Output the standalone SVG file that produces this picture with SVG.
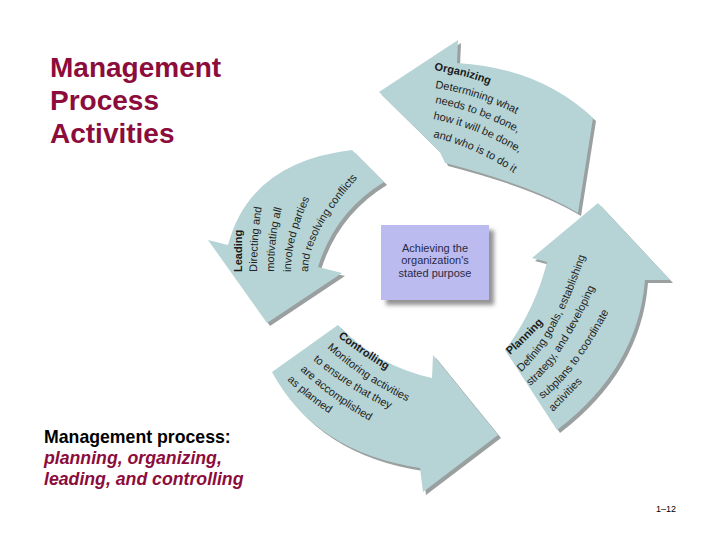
<svg xmlns="http://www.w3.org/2000/svg" width="720" height="540" viewBox="0 0 720 540">
<style>
.arrow{fill:#b6d4d5;}
.shadow{fill:#9a9fa0;}
.ttl{font-family:"Liberation Sans",Arial,sans-serif;font-weight:bold;font-size:28px;fill:#8c0c3c;}
.cap1{font-family:"Liberation Sans",Arial,sans-serif;font-weight:bold;font-size:17.7px;fill:#000;}
.cap2{font-family:"Liberation Sans",Arial,sans-serif;font-weight:bold;font-style:italic;font-size:17.7px;fill:#8c0c3c;}
.head{font-family:"Liberation Sans",Arial,sans-serif;font-weight:bold;font-size:11px;fill:#1a1a1a;}
.body{font-family:"Liberation Sans",Arial,sans-serif;font-size:11px;fill:#222;}
.ctr{font-family:"Liberation Sans",Arial,sans-serif;font-size:11px;fill:#2a2a44;text-anchor:middle;}
.pg{font-family:"Liberation Sans",Arial,sans-serif;font-size:9px;fill:#000;}
</style>
<defs>
<filter id="ds" x="-20%" y="-20%" width="150%" height="150%">
<feDropShadow dx="5" dy="5" stdDeviation="2" flood-color="#777" flood-opacity="0.8"/>
</filter>
<path id="a-org" d="M458,40 L379,92 L440,152 L445,163 Q534,186 578,213 L593,118 Q540,68 457,63 Z"/>
<path id="a-pln" d="M598,203 L670,280 L645,280 Q638,368 557,430 L505,350 Q535,310 547,262 L532,258 Z"/>
<path id="a-led" d="M352,150 Q250,162 228,245 L208,240 L267,323 L342,273 L318,267 Q335,212 384,182 Z"/>
<path id="a-ctl" d="M338,325 Q377,366 432,378 L433,355 L498,435 L423,492 L420,468 Q315,452 272,372 Z"/>
<path id="o1" d="M434,70 Q465,75 494,86 l12,5"/>
<path id="o2" d="M435,88 Q481,95 522,117 l16,9"/>
<path id="o3" d="M435,103 Q482,112 523,136 l16,9"/>
<path id="o4" d="M433,119 Q482,129 524,156 l16,10"/>
<path id="o5" d="M433,137 Q481,149 521,178 l15,11"/>
<path id="p1" d="M510,355 Q530,338 548,317 l5,-7"/>
<path id="p2" d="M521,372 Q556,343 586,254 l5,-15"/>
<path id="p3" d="M530,386 Q562,362 598,280 l6,-14"/>
<path id="p4" d="M542,399 Q574,378 612,306 l7,-13"/>
<path id="p5" d="M553,412 L594,370"/>
<path id="l1" d="M242,272 L242,200"/>
<path id="l2" d="M257,272 Q257,228 264,196 l3,-12"/>
<path id="l3" d="M274,272 Q274,226 287,193 l5,-12"/>
<path id="l4" d="M291,272 Q291,230 318,183 l6,-10"/>
<path id="l5" d="M308,272 Q308,229 368,167 l8,-8"/>
<path id="c1" d="M338,337 Q363,356 390,372 l10,6"/>
<path id="c2" d="M327,348 Q366,383 413,404 l12,5"/>
<path id="c3" d="M313,360 Q350,391 394,411 l12,5"/>
<path id="c4" d="M300,370 Q332,400 370,421 l12,6"/>
<path id="c5" d="M287,380 Q307,399 330,414 l12,7"/>
</defs>

<g id="title">
<text class="ttl" x="50" y="77">Management</text>
<text class="ttl" x="50" y="110">Process</text>
<text class="ttl" x="50" y="143">Activities</text>
</g>

<g id="connectors">
<g id="organizing">
<use href="#a-org" class="shadow" transform="translate(3,3)"/>
<use href="#a-org" class="arrow"/>
<text class="head"><textPath href="#o1">Organizing</textPath></text>
<text class="body"><textPath href="#o2">Determining what</textPath></text>
<text class="body"><textPath href="#o3">needs to be done,</textPath></text>
<text class="body"><textPath href="#o4">how it will be done,</textPath></text>
<text class="body"><textPath href="#o5">and who is to do it</textPath></text>
</g>
<g id="planning">
<use href="#a-pln" class="shadow" transform="translate(3,3)"/>
<use href="#a-pln" class="arrow"/>
<text class="head"><textPath href="#p1">Planning</textPath></text>
<text class="body"><textPath href="#p2">Defining goals, establishing</textPath></text>
<text class="body"><textPath href="#p3">strategy, and developing</textPath></text>
<text class="body"><textPath href="#p4">subplans to coordinate</textPath></text>
<text class="body"><textPath href="#p5">activities</textPath></text>
</g>
<g id="leading">
<use href="#a-led" class="shadow" transform="translate(3,3)"/>
<use href="#a-led" class="arrow"/>
<text class="head"><textPath href="#l1">Leading</textPath></text>
<text class="body"><textPath href="#l2">Directing and</textPath></text>
<text class="body"><textPath href="#l3">motivating all</textPath></text>
<text class="body"><textPath href="#l4">involved parties</textPath></text>
<text class="body"><textPath href="#l5">and resolving conflicts</textPath></text>
</g>
<g id="controlling">
<use href="#a-ctl" class="shadow" transform="translate(3,3)"/>
<use href="#a-ctl" class="arrow"/>
<text class="head"><textPath href="#c1">Controlling</textPath></text>
<text class="body"><textPath href="#c2">Monitoring activities</textPath></text>
<text class="body"><textPath href="#c3">to ensure that they</textPath></text>
<text class="body"><textPath href="#c4">are accomplished</textPath></text>
<text class="body"><textPath href="#c5">as planned</textPath></text>
</g>
</g>

<g id="purpose">
<rect x="381" y="225" width="108" height="75" fill="#bbbbf0" filter="url(#ds)"/>
<text class="ctr" x="435" y="252">Achieving the</text>
<text class="ctr" x="435" y="264">organization's</text>
<text class="ctr" x="435" y="277">stated purpose</text>
</g>

<g id="caption">
<text class="cap1" x="44" y="443">Management process:</text>
<text class="cap2" x="44" y="464">planning, organizing,</text>
<text class="cap2" x="44" y="485">leading, and controlling</text>
</g>

<g id="page-number">
<text class="pg" x="656" y="512">1–12</text>
</g>
</svg>
